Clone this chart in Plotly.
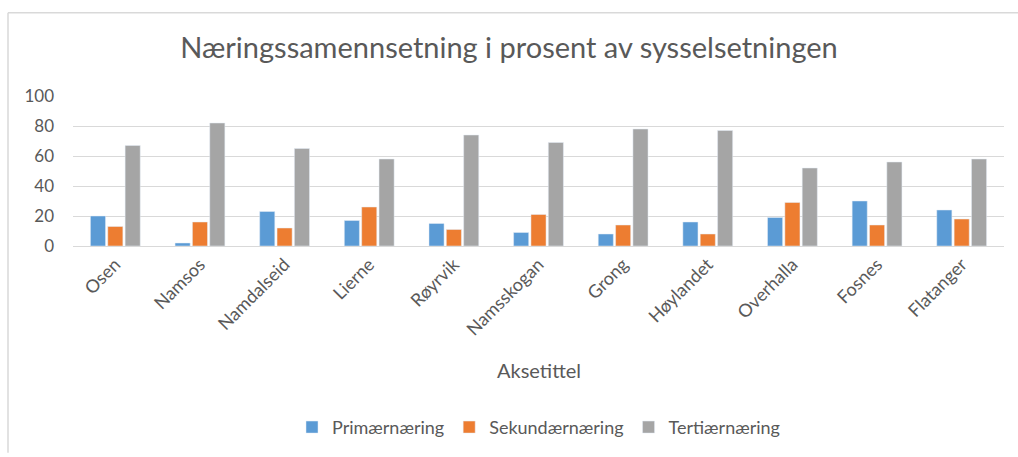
import plotly.graph_objects as go

# Data
kommuner = ["Osen", "Namsos", "Namdalseid", "Lierne", "Røyrvik", "Namsskogan",
            "Grong", "Høylandet", "Overhalla", "Fosnes", "Flatanger"]
primaer = [20, 2, 23, 17, 15, 9, 8, 16, 19, 30, 24]
sekundaer = [13, 16, 12, 26, 11, 21, 14, 8, 29, 14, 18]
tertiaer = [67, 82, 65, 58, 74, 69, 78, 77, 52, 56, 58]

font = "Lato, 'Open Sans', sans-serif"
txt = "#595959"

fig = go.Figure()
fig.add_trace(go.Bar(x=kommuner, y=primaer, name="Primærnæring", marker_color="#5B9BD5"))
fig.add_trace(go.Bar(x=kommuner, y=sekundaer, name="Sekundærnæring", marker_color="#ED7D31"))
fig.add_trace(go.Bar(x=kommuner, y=tertiaer, name="Tertiærnæring", marker_color="#A5A5A5"))

ph = 457 - 96 - 208  # plot height in px

fig.update_layout(
    width=1018, height=457,
    margin=dict(l=73, r=14, t=96, b=208),
    paper_bgcolor="white", plot_bgcolor="white",
    font=dict(family=font, color=txt, size=18),
    title=dict(text="Næringssamennsetning i prosent av sysselsetningen",
               x=0.5, xanchor="center", y=1 - 48 / 457, yanchor="middle",
               font=dict(size=29, color=txt)),
    barmode="group", bargap=0.385, bargroupgap=0.13,
    showlegend=True,
    legend=dict(orientation="h", x=0.5, xanchor="center", y=(249 - 434) / ph, yanchor="middle",
                font=dict(size=18, color=txt), itemwidth=30, traceorder="normal"),
    xaxis=dict(tickangle=-45, showgrid=False, showline=True, linecolor="#D9D9D9",
               ticks="", tickfont=dict(size=18), automargin=False),
    yaxis=dict(range=[0, 100], dtick=20, showgrid=True, gridcolor="#D9D9D9",
               zeroline=False, ticks="", ticklabelstandoff=18,
               tickfont=dict(size=17), automargin=False),
    annotations=[dict(text="Aksetittel", x=0.5, y=(249 - 375) / ph, xref="paper",
                      yref="paper", showarrow=False, xanchor="center", yanchor="middle",
                      font=dict(size=20, color=txt))],
    shapes=[
        dict(type="line", xref="paper", yref="paper", x0=(8 - 73) / 931, x1=(1018 - 73) / 931,
             y0=(249 - 11) / ph, y1=(249 - 11) / ph, line=dict(color="#D9D9D9", width=1.5)),
        dict(type="line", xref="paper", yref="paper", x0=(8 - 73) / 931, x1=(8 - 73) / 931,
             y0=(249 - 11) / ph, y1=(249 - 460) / ph, line=dict(color="#D9D9D9", width=1.5)),
    ],
)

fig.write_html("out.html", config={"displayModeBar": False},
               post_script="document.body.style.margin='0';")
